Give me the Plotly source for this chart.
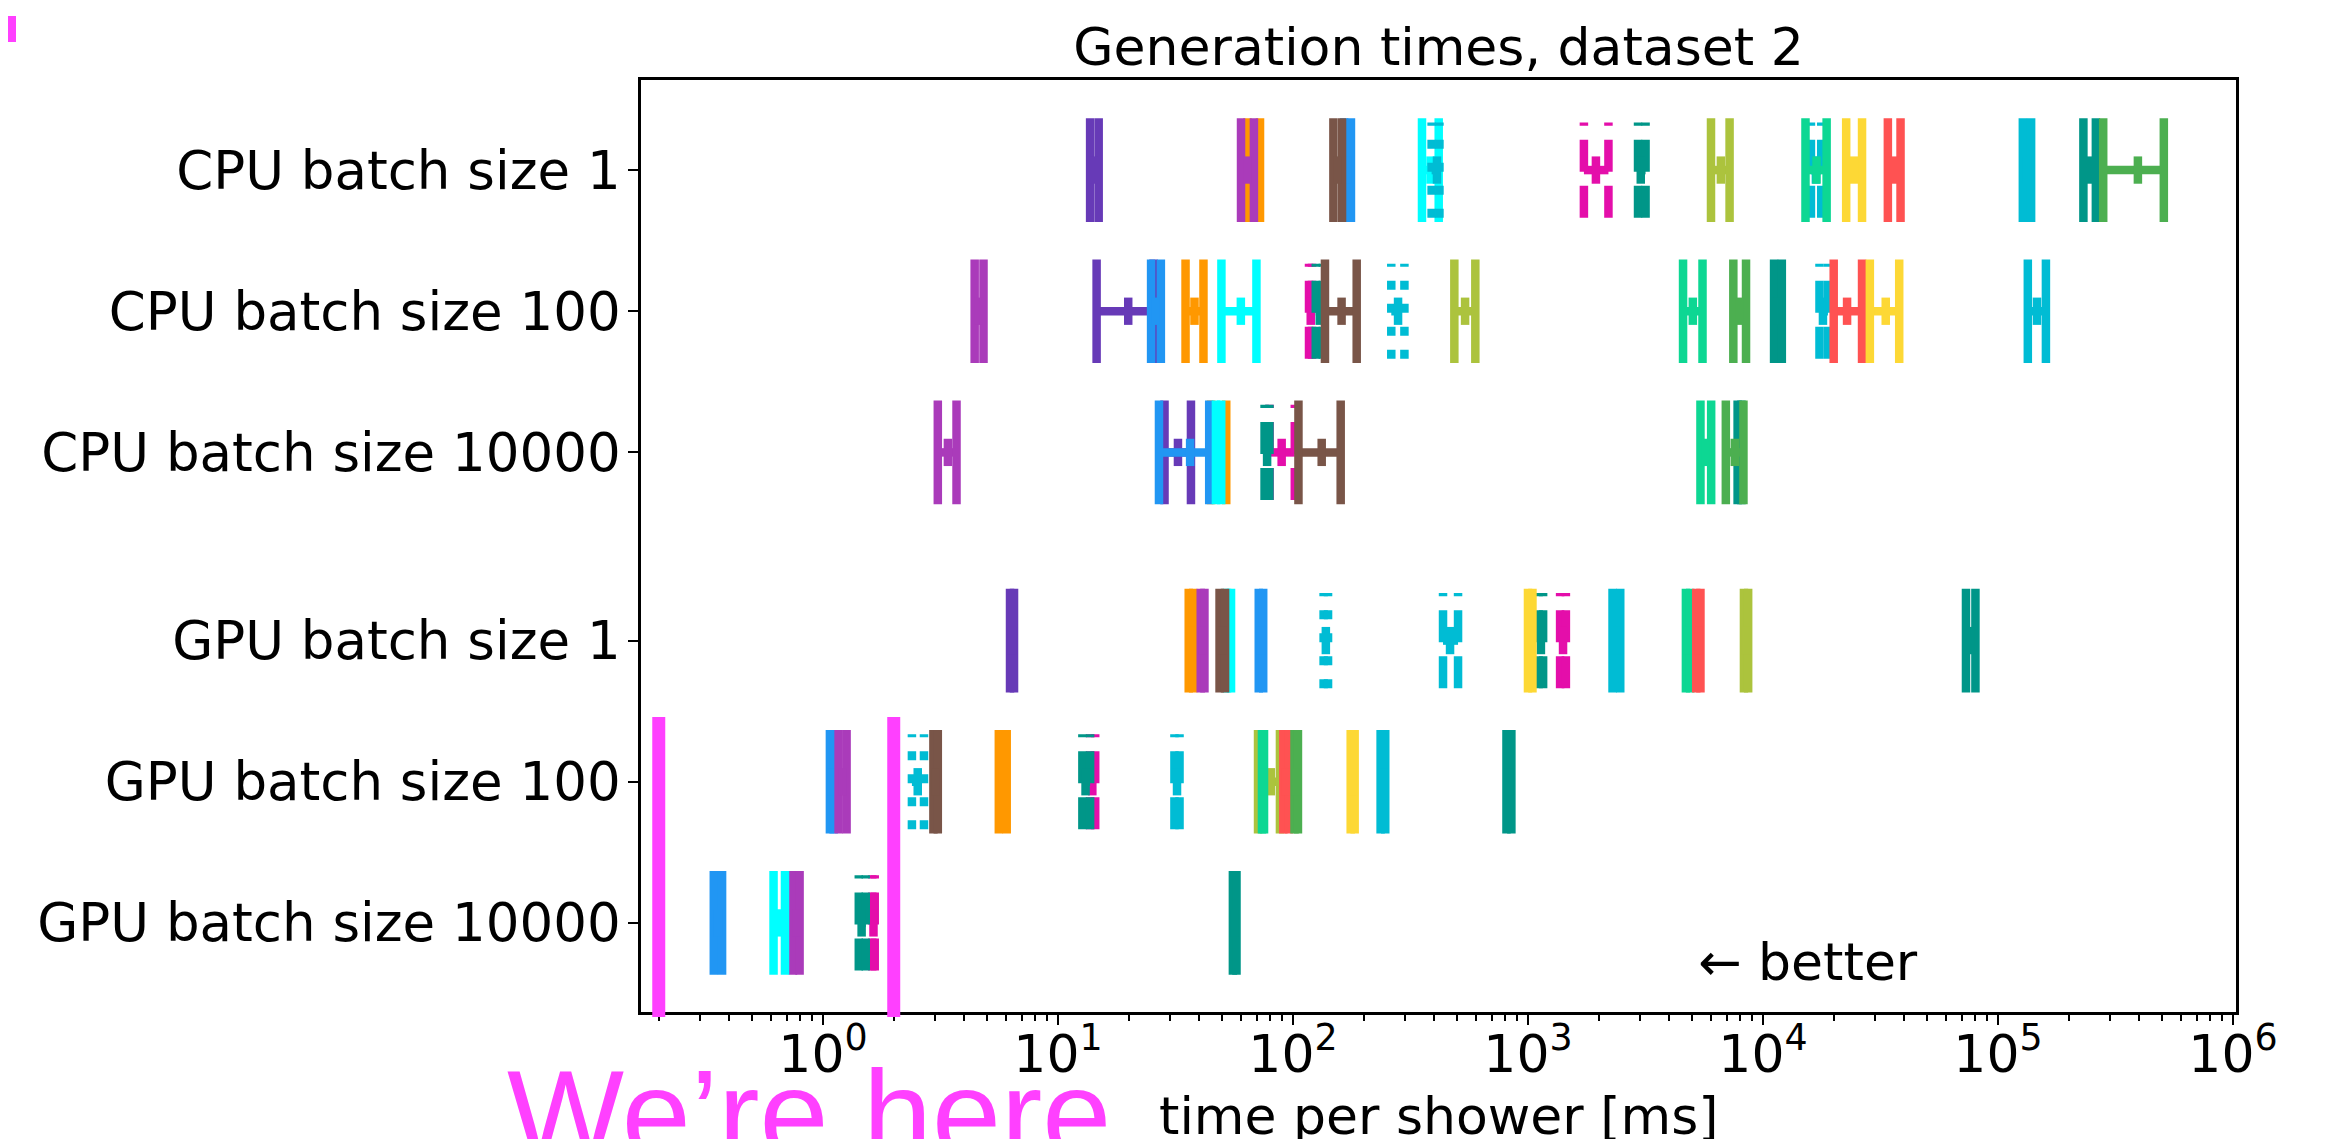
import math
import plotly.graph_objects as go

# ---------------- data ----------------
rows = ["CPU batch size 1", "CPU batch size 100", "CPU batch size 10000",
        "GPU batch size 1", "GPU batch size 100", "GPU batch size 10000"]
row_pos = [0, 1, 2, 3.333, 4.333, 5.333]

# each entry: (min, median, max) time per shower [ms] for the six rows above
deep_purple = [(13.7, 14.2, 14.9), (14.6, 19.9, 25.5), (28.4, 32.4, 36.8), (6.25, 6.37, 6.5), None, None]
orange = [(64, 68, 72.4), (34.9, 38.1, 41.6), (44.8, 48, 52), (36.0, 36.8, 37.6), (5.6, 5.83, 6.05), None]
blue = [(165, 170, 176.5), (24.9, 26, 27.4), (26.9, 36.5, 44), (71.5, 73.1, 74.7), (1.07, 1.09, 1.11), (0.343, 0.357, 0.372)]
purple = [(60.1, 64, 68.2), (4.42, 4.6, 4.82), (3.08, 3.40, 3.70), (40.5, 41.2, 42.0), (1.165, 1.21, 1.26), (0.745, 0.77, 0.795)]
aqua = [(354, 385, 417), (49.6, 60, 69.9), (47, 48, 49.5), (52.4, 53.5, 54.5), None, (0.616, 0.65, 0.689)]
pink_dashed = [(1730, 1946, 2200), (117, 119, 120.5), (79.5, 89.5, 101.8), (1370, 1410, 1450), (13.7, 14.0, 14.4), (1.62, 1.64, 1.66)]
teal_dashed = [(2940, 3020, 3165), (125, 130, 134), (75.7, 77.6, 79.4), (1110, 1135, 1160), (12.7, 13.1, 13.7), (1.42, 1.46, 1.52)]
brown = [(148.6, 155, 161.7), (136.8, 161, 186.7), (105.5, 132.5, 159.6), (48.7, 50, 51.4), (2.95, 3.01, 3.08), None]
cyan_dotted = [(389, 410, 420), (262, 280, 298), None, (135, 138, 141), (2.39, 2.53, 2.69), None]
cyan_dashed = [(16000, 16800, 17700), (17400, 18000, 18900), None, (435, 466, 504), (31.3, 32.1, 32.9), None]
lime = [(6010, 6620, 7210), (486, 540, 597), None, (8300, 8470, 8650), (71, 80.5, 88), None]
spring_green = [(15170, 16900, 18660), (4570, 5030, 5530), (5420, 5700, 6020), (4700, 4800, 4900), (73.8, 74.5, 75.3), None]
teal = [(231000, 245000, 261000), (11150, 11600, 12030), (7800, 7950, 8100), (73100, 76500, 80200), (810, 830, 850), (55.5, 56.5, 57.5)]
red = [(34000, 36100, 38500), (20000, 22800, 26400), None, (5200, 5310, 5420), (91, 93.5, 96), None]
green = [(280500, 394000, 508000), (7480, 7950, 8470), (6950, 7590, 8260), None, (101.5, 103, 105), None]
yellow = [(22600, 24400, 26400), (28500, 33300, 38000), None, (1000, 1020, 1045), (176, 179.5, 183), None]
cyan = [(127600, 133000, 138400), (134000, 146600, 160000), None, (2290, 2380, 2470), (236, 241.5, 247), None]

x_tick_vals = [1, 10, 100, 1000, 10000, 100000, 1000000]
x_tick_text = ["10<sup>0</sup>", "10<sup>1</sup>", "10<sup>2</sup>", "10<sup>3</sup>",
               "10<sup>4</sup>", "10<sup>5</sup>", "10<sup>6</sup>"]
highlight_x = [0.2, 2.0]   # the two magenta markers around "We're here"

# ---------------- styles ----------------
series = [
    (deep_purple, "#673AB7", "solid"),
    (orange, "#FF9800", "solid"),
    (blue, "#2196F3", "solid"),
    (purple, "#AA3BBA", "solid"),
    (aqua, "#00FFFF", "solid"),
    (pink_dashed, "#E40EAA", "dash"),
    (teal_dashed, "#009688", "dash"),
    (brown, "#795548", "solid"),
    (cyan_dotted, "#00BCD4", "dot"),
    (cyan_dashed, "#00BCD4", "dash"),
    (lime, "#ACC33D", "solid"),
    (spring_green, "#0DD793", "solid"),
    (teal, "#009688", "solid"),
    (red, "#FF5252", "solid"),
    (green, "#4CAF50", "solid"),
    (yellow, "#FDD835", "solid"),
    (cyan, "#00BCD4", "solid"),
]
DASHES = {"solid": "solid", "dot": "9px,14px", "dash": "32px,14px"}
CAP_H = {"solid": 0.367, "dot": 0.337, "dash": 0.337}
LW = 8.5
FONT = "DejaVu Sans"
MAGENTA = "#FF40FF"

fig = go.Figure()
for vals, color, style in series:
    dash = DASHES[style]
    h = CAP_H[style]
    for pos, v in zip(row_pos, vals):
        if v is None:
            continue
        lo, med, hi = v
        common = dict(mode="lines", hoverinfo="skip", showlegend=False,
                      line=dict(color=color, width=LW, dash=dash))
        fig.add_trace(go.Scatter(x=[lo, hi], y=[pos, pos], **common))
        fig.add_trace(go.Scatter(x=[lo, lo], y=[pos + h, pos - h], **common))
        fig.add_trace(go.Scatter(x=[hi, hi], y=[pos + h, pos - h], **common))
        fig.add_trace(go.Scatter(
            x=[med], y=[pos], mode="markers", hoverinfo="skip", showlegend=False,
            marker=dict(symbol="line-ns", size=19.5, color=color,
                        line=dict(color=color, width=LW))))

# plot-area geometry (pixels) used for the decorative overlays
W, H = 2326, 1139
L, R, T, B = 633, 98, 72, 135
pw, ph = W - L - R, H - T - B
def px_x(x):
    return (x - L) / pw
def px_y(y):
    return (H - B - y) / ph

minor_vals = [k * 10 ** e for e in range(-1, 6) for k in range(2, 10)]

fig.update_layout(
    width=W, height=H,
    margin=dict(l=L, r=R, t=T, b=B, pad=0),
    paper_bgcolor="white", plot_bgcolor="white",
    font=dict(family=FONT, size=52, color="black"),
    title=dict(text="Generation times, dataset 2", x=0.5, xref="paper", xanchor="center",
               y=1 - 38.8 / H, yref="container", yanchor="middle",
               font=dict(family=FONT, size=52, color="black")),
    xaxis=dict(type="log", range=[-0.7745, 6.013],
               tickmode="array", tickvals=x_tick_vals, ticktext=x_tick_text,
               ticks="outside", ticklen=10, tickwidth=2, tickcolor="black",
               ticklabelstandoff=-15,
               tickfont=dict(family=FONT, size=52, color="black"),
               minor=dict(tickmode="array", tickvals=minor_vals, ticks="outside",
                          ticklen=6, tickwidth=1.6, tickcolor="black", showgrid=False),
               showline=True, linecolor="black", linewidth=2.5, mirror=True,
               showgrid=False, zeroline=False),
    yaxis=dict(range=[5.964, -0.638], tickmode="array", tickvals=row_pos, ticktext=rows,
               ticks="outside", ticklen=10, tickwidth=2, tickcolor="black",
               ticklabelstandoff=-3,
               tickfont=dict(family=FONT, size=53, color="black"),
               showline=True, linecolor="black", linewidth=2.5, mirror=True,
               showgrid=False, zeroline=False),
)

# x-axis label
fig.add_annotation(x=0.5, y=px_y(1108), xref="paper", yref="paper",
                   text="time per shower [ms]", showarrow=False,
                   xanchor="center", yanchor="middle",
                   font=dict(family=FONT, size=52, color="black"))

fig.add_annotation(x=math.log10(15600), y=5.61, xref="x", yref="y",
                   text="\u2190 better", showarrow=False, xanchor="center", yanchor="middle",
                   font=dict(family=FONT, size=52, color="black"))

fig.add_annotation(x=px_x(497), y=px_y(1106), xref="paper", yref="paper",
                   text="We\u2019re here", showarrow=False, xanchor="left", yanchor="middle",
                   font=dict(family="Liberation Sans", size=124, color=MAGENTA))

for xv in highlight_x:
    fig.add_shape(type="line", xref="x", yref="paper", x0=xv, x1=xv,
                  y0=px_y(1009), y1=px_y(709),
                  line=dict(color=MAGENTA, width=13), layer="above")

fig.add_shape(type="rect", xref="paper", yref="paper",
              x0=px_x(0), x1=px_x(8), y0=px_y(34), y1=px_y(8),
              fillcolor=MAGENTA, line=dict(width=0), layer="above")

fig.write_html("out.html")
